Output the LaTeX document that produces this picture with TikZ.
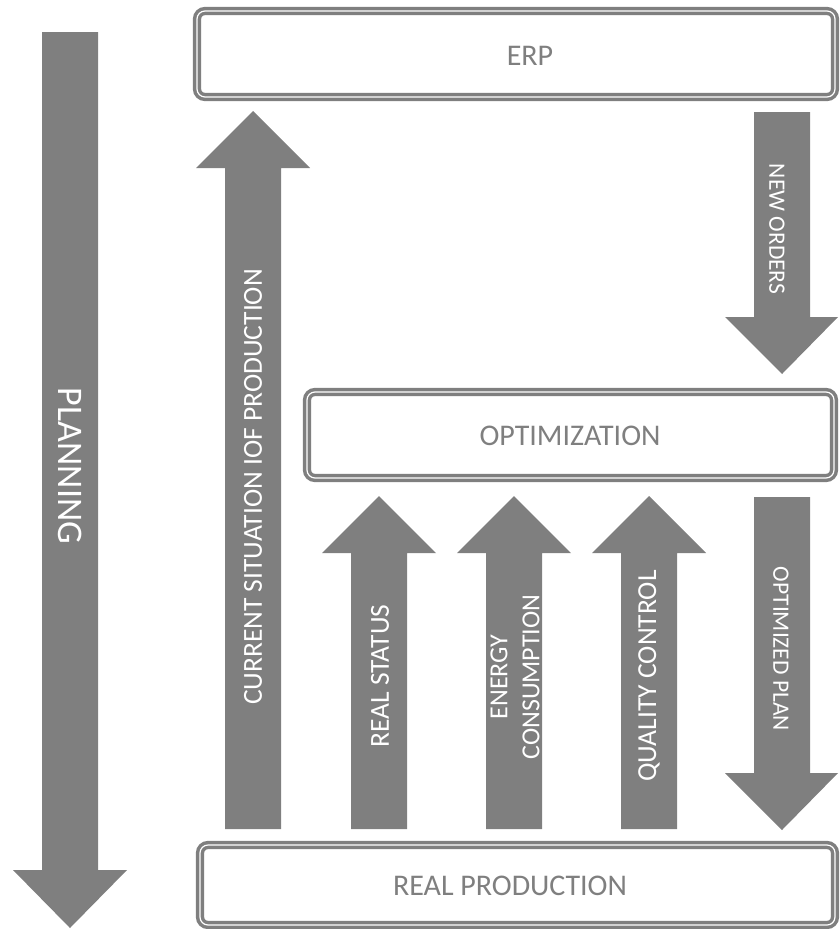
\documentclass[tikz,border=0pt]{standalone}
\usepackage{fontspec}
\setmainfont{Carlito}
\definecolor{flowgray}{HTML}{7F7F7F}
\tikzset{
  arrowbody/.style={fill=flowgray, draw=none},
  framebox/.style={draw=flowgray, double=white, line width=3.5pt, double distance=1.2pt,
    rounded corners=8pt, fill=white, inner sep=0pt},
  boxlabel/.style={text=flowgray, font=\fontsize{30}{36}\selectfont, inner sep=0pt},
  arrowlabel/.style={text=white, font=\fontsize{27.5}{32}\selectfont, inner sep=0pt, align=center},
  smalllabel/.style={text=white, font=\fontsize{23.5}{28}\selectfont, inner sep=0pt},
}
\begin{document}
\begin{tikzpicture}[x=1pt,y=-1pt]
\useasboundingbox (0,0) rectangle (839,929);

% block arrows
% planning (down)
\fill[arrowbody] (42,32) -- (98,32) -- (98,870) -- (127,870) -- (70,928) -- (13,870) -- (42,870) -- cycle;
% current situation (up)
\fill[arrowbody] (225,829) -- (281,829) -- (281,168) -- (310,168) -- (253,111) -- (196,168) -- (225,168) -- cycle;
% new orders (down)
\fill[arrowbody] (754,112) -- (810,112) -- (810,317) -- (838,317) -- (782,374) -- (725,317) -- (754,317) -- cycle;
% optimized plan (down)
\fill[arrowbody] (754,497) -- (810,497) -- (810,773) -- (838,773) -- (782,830) -- (725,773) -- (754,773) -- cycle;
% real status (up)
\fill[arrowbody] (351,829) -- (407,829) -- (407,553) -- (436,553) -- (379,496) -- (322,553) -- (351,553) -- cycle;
% energy consumption (up)
\fill[arrowbody] (486,829) -- (542,829) -- (542,553) -- (571,553) -- (514,496) -- (457,553) -- (486,553) -- cycle;
% quality control (up)
\fill[arrowbody] (621,829) -- (677,829) -- (677,553) -- (706,553) -- (649,496) -- (592,553) -- (621,553) -- cycle;

% framed boxes
\node[framebox, minimum width=638pt, minimum height=86pt] (erp) at (516,54) {};
\node[framebox, minimum width=527pt, minimum height=86pt] (opt) at (570.5,435) {};
\node[framebox, minimum width=635pt, minimum height=80pt] (prod) at (517.5,885) {};

\node[boxlabel] (erplabel) at (530,56) {ERP};
\node[boxlabel] (optlabel) at (570,436) {OPTIMIZATION};
\node[boxlabel] (prodlabel) at (510,886) {REAL PRODUCTION};

% arrow labels
\node[arrowlabel, font=\fontsize{36}{40}\selectfont, rotate=-90] (planning) at (70,466) {PLANNING};
\node[arrowlabel, rotate=90] (current) at (253,487) {CURRENT SITUATION IOF PRODUCTION};
\node[smalllabel, rotate=-90] (neworders) at (777,229) {NEW ORDERS};
\node[smalllabel, rotate=-90] (optplan) at (781,649) {OPTIMIZED PLAN};
\node[arrowlabel, rotate=90] (status) at (380,676) {REAL STATUS};
\node[arrowlabel, font=\fontsize{26}{32}\selectfont, rotate=90] (energy) at (515,677) {ENERGY\\CONSUMPTION};
\node[arrowlabel, rotate=90] (quality) at (649,676) {QUALITY CONTROL};
\end{tikzpicture}
\end{document}
